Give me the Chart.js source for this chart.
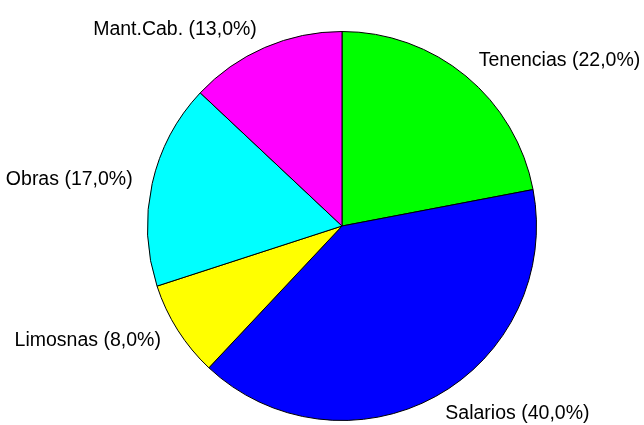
<!DOCTYPE html>
<html>
<head>
<meta charset="utf-8">
<script src="https://cdn.jsdelivr.net/npm/chart.js@4/dist/chart.umd.min.js"></script>
<style>
  html, body { margin: 0; padding: 0; background: #fff; }
  #wrap { width: 644px; height: 425px; }
</style>
</head>
<body>
<div id="wrap"><canvas id="c" width="644" height="425"></canvas></div>
<script>
'use strict';

// Slices, clockwise from 12 o'clock
const categories = ['Tenencias', 'Salarios', 'Limosnas', 'Obras', 'Mant.Cab.'];
const shares = [22.0, 40.0, 8.0, 17.0, 13.0];
const sliceColors = ['#00ff00', '#0000ff', '#ffff00', '#00ffff', '#ff00ff'];

// Labels sit outside the pie, on the slice's mid angle
const outsideLabels = {
  id: 'outsideLabels',
  afterDatasetsDraw: function(chart) {
    const ctx = chart.ctx;
    const meta = chart.getDatasetMeta(0);
    ctx.save();
    ctx.font = '19.5px "Liberation Sans", Arial, sans-serif';
    ctx.fillStyle = '#000';
    ctx.textBaseline = 'middle';
    meta.data.forEach(function(arc, i) {
      const mid = (arc.startAngle + arc.endAngle) / 2;
      const r = arc.outerRadius + 20;
      const x = arc.x + Math.cos(mid) * r;
      const y = arc.y + Math.sin(mid) * r;
      ctx.textAlign = Math.cos(mid) >= 0 ? 'left' : 'right';
      const text = categories[i] + ' (' + shares[i].toFixed(1).replace('.', ',') + '%)';
      ctx.fillText(text, x, y);
    });
    ctx.restore();
  }
};

new Chart(document.getElementById('c').getContext('2d'), {
  type: 'pie',
  data: {
    labels: categories,
    datasets: [{
      data: shares,
      backgroundColor: sliceColors,
      borderColor: '#000',
      borderWidth: 1
    }]
  },
  options: {
    responsive: false,
    animation: false,
    layout: { padding: { left: 147, right: 107, top: 31, bottom: 4 } },
    plugins: {
      legend: { display: false },
      tooltip: { enabled: false }
    }
  },
  plugins: [outsideLabels]
});
</script>
</body>
</html>
